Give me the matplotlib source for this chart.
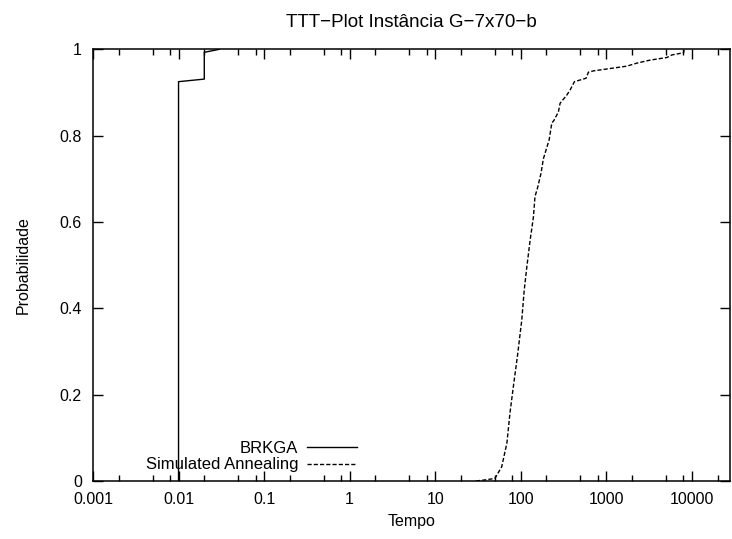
import matplotlib
matplotlib.use('Agg')
import matplotlib.pyplot as plt
from matplotlib.ticker import LogLocator, FuncFormatter, NullFormatter

plt.rcParams['font.family'] = ['Liberation Sans', 'DejaVu Sans']

# BRKGA: tempo vs probabilidade (pontos principais da curva TTT)
brkga_t = [0.01, 0.01, 0.02, 0.02, 0.03]
brkga_p = [0.0, 0.925, 0.931, 0.993, 1.0]

# Simulated Annealing
sa_t = [30, 40, 50, 60, 69, 75, 84, 91.5, 96.6, 103, 110, 118, 129, 141,
        147, 157, 173, 184, 215, 231, 246, 276, 289, 346, 379, 425, 582,
        619, 709, 1745, 2285, 3266, 5129, 5864, 8017, 8166]
sa_p = [0.0, 0.003, 0.006, 0.033, 0.088, 0.158, 0.234, 0.288, 0.327, 0.373,
        0.442, 0.496, 0.558, 0.612, 0.659, 0.678, 0.713, 0.746, 0.790, 0.829,
        0.836, 0.855, 0.875, 0.894, 0.906, 0.925, 0.933, 0.947, 0.950, 0.961,
        0.968, 0.975, 0.981, 0.987, 0.992, 0.998]

fig = plt.figure(figsize=(7.32, 5.39), dpi=100)
ax = fig.add_axes([93/732, 1-481/539, 637/732, 431.7/539])

ax.plot(brkga_t, brkga_p, color='black', lw=1.0, label='BRKGA')
ax.plot(sa_t, sa_p, color='black', lw=1.0, linestyle=(0, (3, 1.5)),
        label='Simulated Annealing')

ax.set_xscale('log')
ax.set_xlim(0.001, 28000)
ax.set_ylim(0, 1)
ax.xaxis.set_major_locator(LogLocator(base=10, numticks=20))
ax.xaxis.set_minor_locator(LogLocator(base=10, subs=(2, 5, 8), numticks=20))
ax.xaxis.set_major_formatter(FuncFormatter(lambda v, p: '%g' % v))
ax.xaxis.set_minor_formatter(NullFormatter())
ax.set_yticks([0, 0.2, 0.4, 0.6, 0.8, 1.0])
ax.yaxis.set_major_formatter(FuncFormatter(lambda v, p: '%g' % v))

ax.tick_params(which='both', direction='in', top=True, right=True,
               labelsize=11.5, width=1)
ax.tick_params(which='major', length=7, pad=8)
ax.tick_params(which='minor', length=4)
for s in ax.spines.values():
    s.set_linewidth(1.1)

ax.set_title('TTT\u2212Plot Instância G\u22127x70\u2212b', fontsize=13.5, pad=16)
ax.set_xlabel('Tempo', fontsize=11.5, labelpad=5)
ax.set_ylabel('Probabilidade', fontsize=11.5, labelpad=21)

ax.legend(loc='lower right', bbox_to_anchor=(0.415, 0.02), frameon=False,
          markerfirst=False, fontsize=12, borderpad=0, borderaxespad=0,
          handlelength=3.0, handletextpad=0.55, labelspacing=0.1)

fig.savefig('out.png', dpi=100)
